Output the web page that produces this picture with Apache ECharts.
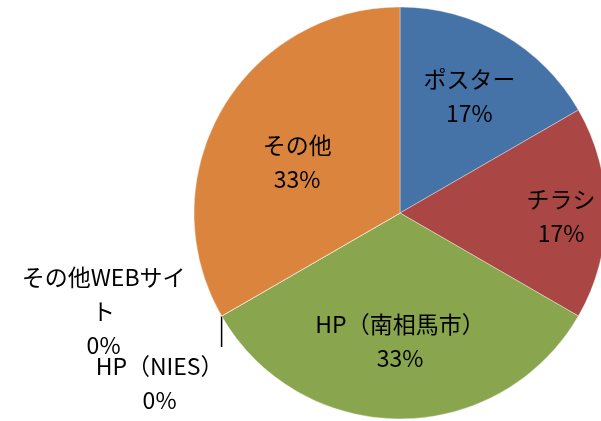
<!DOCTYPE html>
<html>
<head>
<meta charset="utf-8">
<script src="https://cdn.jsdelivr.net/npm/echarts@6/dist/echarts.min.js"></script>
<style>
  html, body { margin: 0; padding: 0; background: #fff; }
  #chart { width: 601px; height: 421px; }
</style>
</head>
<body>
<div id="chart"></div>
<script>
const names = ['ポスター', 'チラシ', 'HP（南相馬市）', 'HP（NIES）', 'その他WEBサイト', 'その他'];
const values = [1, 1, 2, 0, 0, 2];
const colors = ['#4572A7', '#AA4643', '#89A54E', '#71588F', '#4198AF', '#DB843D'];

// pie geometry
const CX = 400, CY = 213, R = 206;
// how far each inside label sits out from the default half-radius spot
const labelPush = [1.31, 1.52, 1.24, 1, 1, 1.12];
const labelNudgeY = [4, 3, -3, 0, 0, 9];

const chart = echarts.init(document.getElementById('chart'), null, { renderer: 'canvas' });

const data = names.map((n, i) => {
  const item = { name: n, value: values[i], itemStyle: { color: colors[i] } };
  if (values[i] === 0) {
    item.label = { position: 'outside', width: 176, overflow: 'break' };
    item.labelLine = { show: i === 3, lineStyle: { color: '#000', width: 1.5 } };
  }
  return item;
});

chart.setOption({
  animation: false,
  series: [{
    type: 'pie',
    center: [CX, CY],
    radius: R,
    startAngle: 90,
    clockwise: true,
    percentPrecision: 0,
    avoidLabelOverlap: false,
    itemStyle: { borderColor: 'rgba(255,255,255,0.6)', borderWidth: 0.6 },
    label: {
      show: true,
      position: 'inside',
      formatter: '{b}\n{d}%',
      color: '#000',
      fontSize: 23,
      lineHeight: 34,
      fontFamily: '"Noto Sans CJK JP", sans-serif',
      align: 'center'
    },
    labelLine: { show: false },
    labelLayout: function (p) {
      const i = p.dataIndex;
      const rc = p.labelRect;
      if (values[i] > 0) {
        const lx = rc.x + rc.width / 2, ly = rc.y + rc.height / 2;
        const k = labelPush[i];
        return { x: CX + (lx - CX) * k, y: CY + (ly - CY) * k + labelNudgeY[i], align: 'center', verticalAlign: 'middle' };
      }
      const a = p.labelLinePoints && p.labelLinePoints[0]
        ? p.labelLinePoints[0]
        : [CX - R * Math.sin(Math.PI / 3), CY + R * 0.5];
      if (i === 3) {
        return {
          x: a[0] - 62, y: a[1] + 67, align: 'center', verticalAlign: 'middle',
          labelLinePoints: [[a[0], a[1]], [a[0], a[1] + 31], [a[0], a[1] + 31]]
        };
      }
      return { x: a[0] - 118, y: a[1] - 5, align: 'center', verticalAlign: 'middle' };
    },
    data: data
  }]
});
</script>
</body>
</html>
